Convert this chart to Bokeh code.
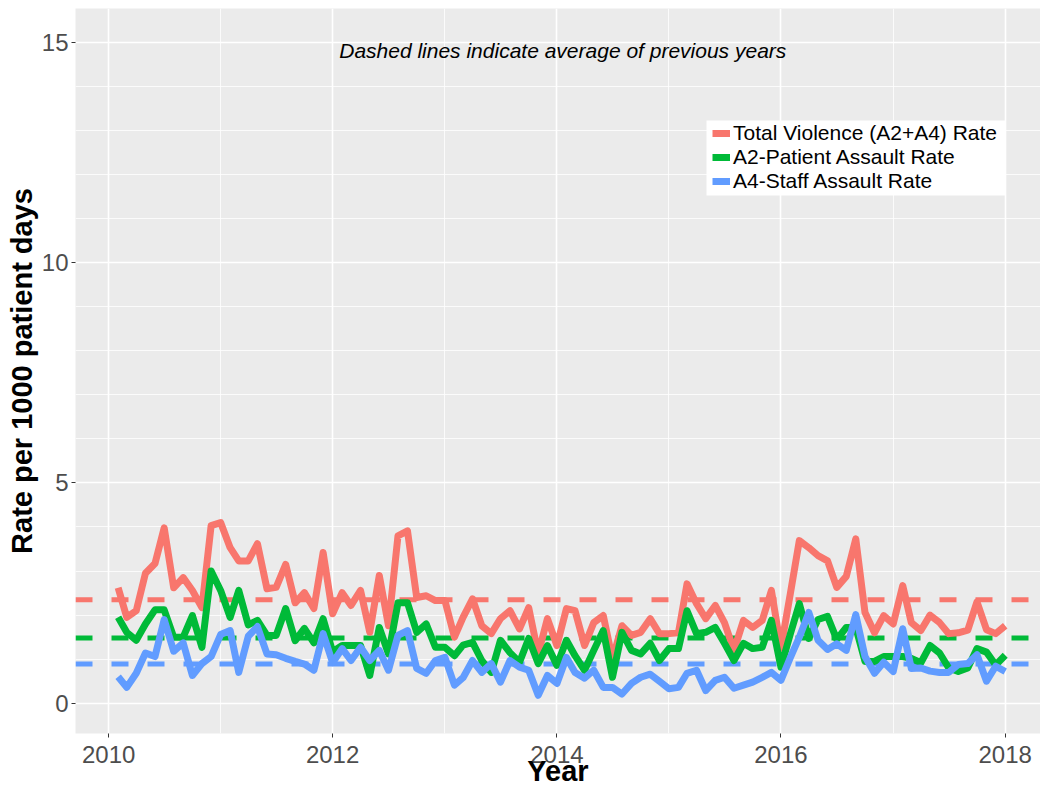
import pandas as pd
from bokeh.plotting import figure
from bokeh.models import (ColumnDataSource, Range1d, FixedTicker, DatetimeTickFormatter,
                          Span, Legend, LegendItem, Label, BoxAnnotation)
from bokeh.embed import file_html
from bokeh.resources import INLINE

# ---------------- data ----------------
months = pd.date_range("2010-02-01", "2018-01-01", freq="MS")

total_rate = [
    2.62, 1.95, 2.10, 2.95, 3.17, 3.98, 2.62, 2.85, 2.56, 2.17, 4.03,
    4.10, 3.53, 3.23, 3.23, 3.62, 2.60, 2.63, 3.15, 2.28, 2.51, 2.15, 3.42,
    2.03, 2.51, 2.22, 2.56, 1.61, 2.90, 1.76, 3.80, 3.91, 2.40, 2.44, 2.33,
    2.33, 1.50, 1.95, 2.37, 1.76, 1.58, 1.92, 2.10, 1.69, 2.17, 1.12, 1.92,
    1.31, 2.15, 2.10, 1.31, 1.83, 1.99, 1.00, 1.76, 1.54, 1.61, 1.92, 1.58,
    1.58, 1.60, 2.71, 2.26, 1.92, 2.22, 1.83, 1.20, 1.88, 1.72, 1.88, 2.56,
    1.25, 2.50, 3.69, 3.53, 3.35, 3.23, 2.63, 2.88, 3.73, 2.06, 1.60, 1.99,
    1.80, 2.67, 1.83, 1.65, 2.00, 1.83, 1.58, 1.60, 1.66, 2.30, 1.67, 1.58,
    1.76,
]
patient_rate = [
    1.95, 1.61, 1.43, 1.80, 2.12, 2.12, 1.50, 1.50, 1.99, 1.27, 3.00,
    2.56, 1.95, 2.56, 1.78, 1.88, 1.54, 1.54, 2.15, 1.42, 1.70, 1.37, 1.92,
    1.17, 1.31, 1.31, 1.31, 0.63, 1.72, 1.12, 2.28, 2.28, 1.61, 1.80, 1.27,
    1.27, 1.08, 1.32, 1.38, 0.97, 0.70, 1.43, 1.15, 0.93, 1.47, 0.90, 1.31,
    0.86, 1.43, 1.08, 0.75, 1.20, 1.65, 0.59, 1.61, 1.20, 1.12, 1.36, 0.97,
    1.24, 1.24, 2.10, 1.58, 1.61, 1.72, 1.36, 0.97, 1.36, 1.24, 1.27, 1.88,
    0.82, 1.58, 2.26, 1.47, 1.90, 1.97, 1.45, 1.72, 1.72, 0.95, 0.95, 1.06,
    1.06, 1.06, 1.02, 0.92, 1.31, 1.14, 0.80, 0.72, 0.80, 1.24, 1.16, 0.87,
    1.09,
]
staff_rate = [
    0.60, 0.36, 0.68, 1.14, 1.06, 1.90, 1.18, 1.37, 0.63, 0.90, 1.06,
    1.56, 1.65, 0.70, 1.52, 1.74, 1.12, 1.10, 1.02, 0.95, 0.89, 0.75, 1.58,
    0.92, 1.24, 0.97, 1.27, 0.97, 1.20, 0.75, 1.54, 1.65, 0.79, 0.68, 0.97,
    1.04, 0.41, 0.58, 0.97, 0.70, 0.90, 0.48, 0.97, 0.82, 0.75, 0.18, 0.63,
    0.45, 1.04, 0.70, 0.57, 0.75, 0.36, 0.36, 0.21, 0.45, 0.59, 0.66, 0.50,
    0.33, 0.36, 0.68, 0.75, 0.29, 0.52, 0.59, 0.34, 0.41, 0.48, 0.59, 0.70,
    0.52, 1.04, 1.50, 2.06, 1.43, 1.22, 1.35, 1.20, 2.01, 1.06, 0.68, 0.93,
    0.72, 1.69, 0.79, 0.80, 0.73, 0.70, 0.70, 0.88, 0.90, 1.10, 0.50, 0.84,
    0.72,
]

# averages of previous years (dashed lines)
avg_total = 2.35
avg_patient = 1.48
avg_staff = 0.89

series_labels = ["Total Violence (A2+A4) Rate", "A2-Patient Assault Rate", "A4-Staff Assault Rate"]
series_colors = ["#F8766D", "#00BA38", "#619CFF"]

x_major_years = [2010, 2012, 2014, 2016, 2018]
x_minor_years = [2009, 2011, 2013, 2015, 2017]
y_major = [0, 5, 10, 15]
y_minor = [1, 2, 3, 4, 6, 7, 8, 9, 11, 12, 13, 14]

FONT = "Liberation Sans"


def ms(ts):
    return pd.Timestamp(ts).value / 1e6


source = ColumnDataSource(dict(date=months, total=total_rate,
                               patient=patient_rate, staff=staff_rate))

p = figure(width=1040, height=789, x_axis_type="datetime",
           x_range=Range1d(ms("2009-09-15"), ms("2018-04-26")),
           y_range=Range1d(-0.686, 15.765),
           output_backend="svg", toolbar_location=None,
           min_border_left=75, min_border_right=0, min_border_top=8, min_border_bottom=0)

p.background_fill_color = "#EBEBEB"
p.border_fill_color = "white"
p.outline_line_color = None

xt = FixedTicker(ticks=[ms(f"{y}-01-01") for y in x_major_years],
                 minor_ticks=[ms(f"{y}-01-01") for y in x_minor_years])
p.xaxis.ticker = xt
p.xgrid.ticker = xt
p.xaxis.formatter = DatetimeTickFormatter(years="%Y", months="%Y", days="%Y", hours="%Y")
yt = FixedTicker(ticks=y_major, minor_ticks=y_minor)
p.yaxis.ticker = yt
p.ygrid.ticker = yt

for g in (p.xgrid, p.ygrid):
    g.grid_line_color = "white"
    g.grid_line_width = 1.6
    g.minor_grid_line_color = "white"
    g.minor_grid_line_width = 0.8

for ax in (p.xaxis, p.yaxis):
    ax.axis_line_color = None
    ax.major_tick_out = 4
    ax.major_tick_in = 0
    ax.major_tick_line_color = "#333333"
    ax.minor_tick_out = 0
    ax.minor_tick_in = 0
    ax.major_label_text_font = FONT
    ax.major_label_text_font_size = "24px"
    ax.major_label_text_color = "#4D4D4D"
    ax.axis_label_text_font = FONT
    ax.axis_label_text_font_size = "29px"
    ax.axis_label_text_font_style = "bold"
    ax.axis_label_text_color = "black"

p.xaxis.major_label_standoff = 8
p.xaxis.axis_label_standoff = -11
p.yaxis.major_label_standoff = 3
p.yaxis.axis_label_standoff = 1

p.xaxis.axis_label = "Year"
p.yaxis.axis_label = "Rate per 1000 patient days"

# dashed average lines
for val, col in zip([avg_total, avg_patient, avg_staff], series_colors):
    p.add_layout(Span(location=val, dimension="width", line_color=col,
                      line_width=5, line_dash="17 19", level="underlay"))

renderers = []
for key, col in zip(["total", "patient", "staff"], series_colors):
    r = p.line("date", key, source=source, line_color=col, line_width=7,
               line_join="round")
    renderers.append(r)

# legend: white box behind a single three-entry legend (offsets are frame-relative)
FB = 734  # approximate frame bottom in page px
p.add_layout(BoxAnnotation(left=631, right=930, bottom=FB - 196, top=FB - 121,
                           left_units="screen", right_units="screen",
                           bottom_units="screen", top_units="screen",
                           fill_color="white", fill_alpha=1.0, line_color=None))
legend = Legend(items=[LegendItem(label=lab, renderers=[r])
                       for lab, r in zip(series_labels, renderers)],
                location=(637, FB - 194))
legend.background_fill_alpha = 0.0
legend.border_line_color = None
legend.padding = 0
legend.spacing = 0
legend.margin = 0
legend.glyph_width = 18
legend.glyph_height = 18
legend.label_height = 18
legend.label_standoff = 3
legend.label_text_font = FONT
legend.label_text_font_size = "21px"
legend.label_text_color = "black"
p.add_layout(legend, "center")

p.add_layout(Label(x=ms("2014-01-20"), y=14.81, text="Dashed lines indicate average of previous years",
                   text_align="center", text_baseline="middle", text_font=FONT,
                   text_font_style="italic", text_font_size="21px", text_color="black"))

open("out.html", "w").write(file_html(p, INLINE))
